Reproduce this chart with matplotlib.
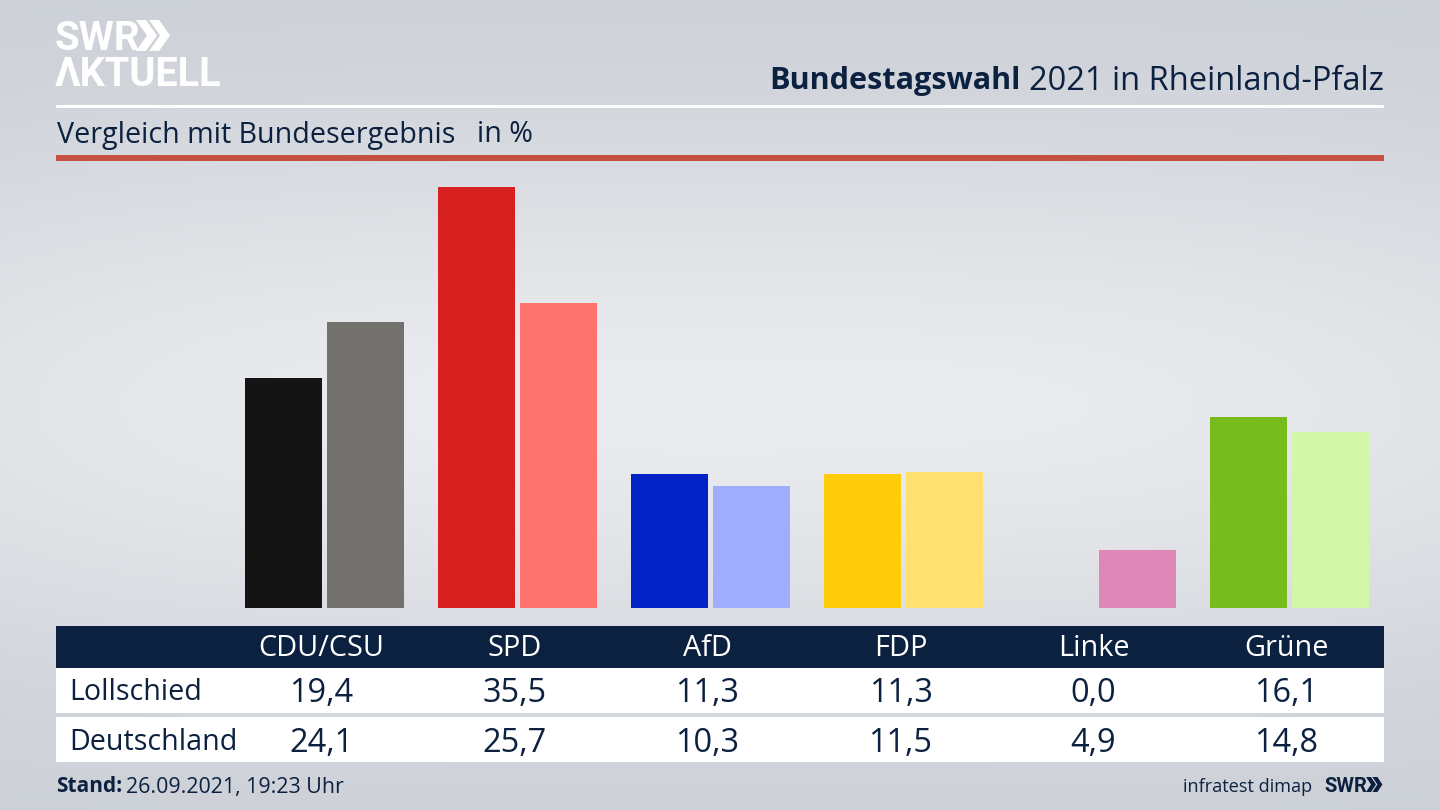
import numpy as np
import matplotlib
matplotlib.use("Agg")
import matplotlib.pyplot as plt
from matplotlib.patches import Rectangle, Polygon

parties = ["CDU/CSU", "SPD", "AfD", "FDP", "Linke", "Grüne"]
lollschied = [19.4, 35.5, 11.3, 11.3, 0.0, 16.1]
deutschland = [24.1, 25.7, 10.3, 11.5, 4.9, 14.8]
colors_local = ["#141414", "#d7201f", "#0122c4", "#ffcb0a", "#7b6e9a", "#78bb1c"]
colors_national = ["#73716e", "#ff736f", "#a0adff", "#ffe070", "#de88b7", "#d3f6a8"]
row_names = ["Lollschied", "Deutschland"]

W, H = 1440, 810
NAVY = "#0b213f"
plt.rcParams["font.family"] = ["Open Sans", "DejaVu Sans"]
fig = plt.figure(figsize=(14.4, 8.1), dpi=100)

# page: pixel coordinates
page = fig.add_axes([0, 0, 1, 1])
page.set_xlim(0, W); page.set_ylim(H, 0); page.axis("off")
yy, xx = np.mgrid[0:1:162j, 0:1:288j]
glow = np.exp(-((yy - 0.5) / 0.33) ** 2) * (1 - 0.25 * np.abs(2 * xx - 1) ** 3)
c0, c1 = np.array([0xcb, 0xcf, 0xd6]) / 255, np.array([0xea, 0xeb, 0xee]) / 255
bg = c0 + (c1 - c0) * glow[..., None]
page.imshow(bg, extent=(0, W, H, 0), aspect="auto", interpolation="bilinear", zorder=0)

def rect(x0, y0, x1, y1, color, z=1):
    page.add_patch(Rectangle((x0, y0), x1 - x0, y1 - y0, fc=color, ec="none", zorder=z))

def chevrons(x, y0, y1, w, t, color):
    for k in range(2):
        o = x + k * (t + w * 0.28)
        m = (y0 + y1) / 2
        page.add_patch(Polygon([(o, y0), (o + t, y0), (o + t + w, m), (o + t, y1), (o, y1), (o + w, m)],
                               fc=color, ec="none", zorder=3))

# rules
rect(56, 104.5, 1384, 107.5, "#ffffff")
rect(56, 155, 1384, 160.5, "#c5503f")

# logo
page.text(55, 39, "SWR", color="white", fontsize=29, fontweight="bold",
          family=["Liberation Sans Narrow", "Roboto"], va="center", ha="left")
chevrons(136, 20, 51, 11, 10, "white")
page.text(55, 75, "ΛKTUELL", color="white", fontsize=28.5, fontweight="bold",
          family=["Roboto", "DejaVu Sans"], va="center", ha="left")

# titles
t = page.text(1384, 81, "2021 in Rheinland-Pfalz", color=NAVY, fontsize=23.5, ha="right", va="center")
fig.canvas.draw()
bb = t.get_window_extent()
page.text(bb.x0 - 9, 81, "Bundestagswahl", color=NAVY, fontsize=22.1, fontweight="bold", ha="right", va="center")
page.text(57, 135, "Vergleich mit Bundesergebnis", color=NAVY, fontsize=20.65, ha="left", va="center")
page.text(477, 135, "in %", color=NAVY, fontsize=20.65, ha="left", va="center")

# bars: group pitch 193 px, axis spans baseline y=608 to the tallest bar y=187
ax = fig.add_axes([0, (H - 608) / H, 1, 421 / H])
ax.patch.set_alpha(0); ax.axis("off")
pitch, first = 193.0, 324.5
ax.set_xlim(-first / pitch, (W - first) / pitch)
ax.set_ylim(0, 35.5)
x = np.arange(len(parties))
bw, off = 77 / pitch, 41 / pitch
ax.bar(x - off, lollschied, bw, color=colors_local)
ax.bar(x + off, deutschland, bw, color=colors_national)

# table
rect(56, 626, 1384, 668, NAVY)
rect(56, 668, 1384, 713, "white")
rect(56, 717, 1384, 762, "white")
cx = first + np.arange(len(parties)) * pitch - 3
for c, p, a, b in zip(cx, parties, lollschied, deutschland):
    page.text(c, 649, p, color="white", fontsize=20.8, ha="center", va="center")
    page.text(c, 694, f"{a:.1f}".replace(".", ","), color=NAVY, fontsize=23.4, ha="center", va="center")
    page.text(c, 743, f"{b:.1f}".replace(".", ","), color=NAVY, fontsize=23.4, ha="center", va="center")
page.text(69.5, 693, row_names[0], color=NAVY, fontsize=20.6, ha="left", va="center")
page.text(69.5, 742, row_names[1], color=NAVY, fontsize=20.6, ha="left", va="center")

# footer
s = page.text(56, 787, "Stand:", color=NAVY, fontsize=15, fontweight="bold", ha="left", va="center")
fig.canvas.draw()
page.text(s.get_window_extent().x1 + 4, 787.5, "26.09.2021, 19:23 Uhr", color=NAVY, fontsize=15.4, ha="left", va="center")
page.text(1312, 787, "infratest dimap", color=NAVY, fontsize=13.1, ha="right", va="center")
page.text(1324, 787, "SWR", color=NAVY, fontsize=14.5, fontweight="bold", family="Roboto", ha="left", va="center")
chevrons(1366, 777, 792, 5, 5, NAVY)

page.set_xlim(0, W); page.set_ylim(H, 0)
fig.savefig("out.png", dpi=100)
